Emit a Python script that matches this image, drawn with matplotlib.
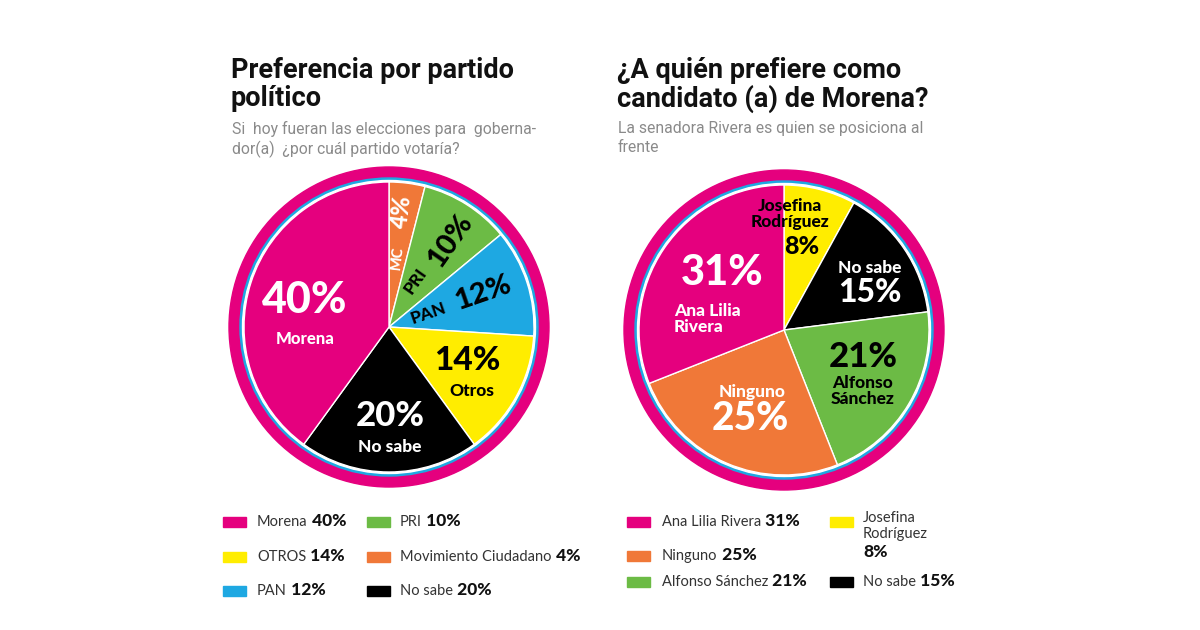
import matplotlib
matplotlib.use("Agg")
import matplotlib.pyplot as plt
from matplotlib.patches import Circle, Rectangle

# ---- data ----
partidos = ["MC", "PRI", "PAN", "Otros", "No sabe", "Morena"]
partidos_pct = [4, 10, 12, 14, 20, 40]
partidos_col = ["#F07838", "#6CBB45", "#1EA8E2", "#FFED00", "#000000", "#E5007E"]

leg1_labels = ["Morena", "OTROS", "PAN", "PRI", "Movimiento Ciudadano", "No sabe"]
leg1_pct = [40, 14, 12, 10, 4, 20]
leg1_col = ["#E5007E", "#FFED00", "#1EA8E2", "#6CBB45", "#F07838", "#000000"]

candidatos = ["Josefina Rodríguez", "No sabe", "Alfonso Sánchez", "Ninguno", "Ana Lilia Rivera"]
candidatos_pct = [8, 15, 21, 25, 31]
candidatos_col = ["#FFED00", "#000000", "#6CBB45", "#F07838", "#E5007E"]

leg2_labels = ["Ana Lilia Rivera", "Ninguno", "Alfonso Sánchez", "Josefina\nRodríguez", "No sabe"]
leg2_pct = [31, 25, 21, 8, 15]
leg2_col = ["#E5007E", "#F07838", "#6CBB45", "#FFED00", "#000000"]

MAG = "#E5007E"
BLUE = "#1EA8E2"
H = 630

fig = plt.figure(figsize=(12, 6.3), dpi=100)
ax = fig.add_axes([0, 0, 1, 1])

def px(x, y):
    return x, H - y

PIE_FONT = "Lato"
TITLE_FONT = "Roboto"

def ringed_pie(vals, cols, cx, cy):
    c = px(cx, cy)
    ax.add_patch(Circle(c, 160, color=MAG, zorder=1))
    ax.add_patch(Circle(c, 149, color=BLUE, zorder=2))
    ax.add_patch(Circle(c, 146.5, color="white", zorder=3))
    wedges, _ = ax.pie(vals, colors=cols, startangle=90, counterclock=False,
                       radius=145, center=c,
                       wedgeprops=dict(edgecolor="white", linewidth=1.0))
    for w in wedges:
        w.set_zorder(4)

ringed_pie(partidos_pct, partidos_col, 389, 327)
ringed_pie(candidatos_pct, candidatos_col, 784, 330)

def lbl(x, y, s, size, color, rot=0, ha="center"):
    ax.text(*px(x, y), s, fontsize=size, color=color, fontfamily=PIE_FONT,
            fontweight="black", ha=ha, va="center", rotation=rot,
            rotation_mode="anchor", zorder=6, linespacing=0.95)

# left pie labels
d = dict(zip(partidos, partidos_pct))
lbl(305, 300, f"{d['Morena']}%", 31, "white")
lbl(305, 339, "Morena", 12, "white")
lbl(397, 258, "MC", 10.5, "white", rot=83)
lbl(402, 212, f"{d['MC']}%", 17, "white", rot=83)
lbl(415, 281, "PRI", 12.5, "black", rot=55)
lbl(450, 241, f"{d['PRI']}%", 21, "black", rot=55)
lbl(428, 313, "PAN", 12.5, "black", rot=19)
lbl(483, 293, f"{d['PAN']}%", 21, "black", rot=19)
lbl(467, 361, f"{d['Otros']}%", 24, "black")
lbl(472, 391, "Otros", 12.5, "black")
lbl(390, 416, f"{d['No sabe']}%", 25, "white")
lbl(390, 447, "No sabe", 12.5, "white")

# right pie labels
d2 = dict(zip(candidatos, candidatos_pct))
lbl(722, 273, f"{d2['Ana Lilia Rivera']}%", 30, "white")
lbl(674, 319, "Ana Lilia\nRivera", 12.5, "white", ha="left")
lbl(752, 392, "Ninguno", 12.5, "white")
lbl(750, 418, f"{d2['Ninguno']}%", 28, "white")
lbl(863, 357, f"{d2['Alfonso Sánchez']}%", 25, "black")
lbl(863, 391, "Alfonso\nSánchez", 12.5, "black")
lbl(870, 268, "No sabe", 12.5, "white")
lbl(870, 293, f"{d2['No sabe']}%", 23, "white")
lbl(790, 214, "Josefina\nRodríguez", 12.5, "black")
lbl(802, 247, f"{d2['Josefina Rodríguez']}%", 18, "black")

# titles
def title(x, y, s):
    ax.text(*px(x, y), s, fontsize=19.5, fontfamily=TITLE_FONT, fontweight="bold",
            color="#111111", ha="left", va="top", linespacing=1.05)

def sub(x, y, s):
    ax.text(*px(x, y), s, fontsize=11.3, fontfamily=TITLE_FONT, color="#8a8a8a",
            ha="left", va="top", linespacing=1.3)

title(231, 57, "Preferencia por partido\npolítico")
sub(232, 121, "Si  hoy fueran las elecciones para  goberna-\ndor(a)  ¿por cuál partido votaría?")
title(617, 57, "¿A quién prefiere como\ncandidato (a) de Morena?")
sub(618, 121, "La senadora Rivera es quien se posiciona al\nfrente")

# legends
def legend_item(sx, tx, y, col, name):
    x0, y0 = px(sx, y + 5)
    ax.add_patch(Rectangle((x0, y0), 23, 10, color=col, zorder=5))
    t = ax.text(*px(tx, y), name, fontsize=10.5, fontfamily="Lato", color="#333333",
                ha="left", va="center", zorder=6, linespacing=1.2)
    return t

def legend_pct(t, pct, newline=False):
    if newline:
        ax.annotate(f"{pct}%", xy=(0, 0), xycoords=t, xytext=(0, -2),
                    textcoords="offset points", fontsize=12.5, fontfamily="Lato",
                    fontweight="black", color="#111111", ha="left", va="top")
    else:
        ax.annotate(f" {pct}%", xy=(1, 0), xycoords=t, xytext=(0, 0),
                    textcoords="offset points", fontsize=12.5, fontfamily="Lato",
                    fontweight="black", color="#111111", ha="left", va="bottom")

rows1 = [522, 557, 591]
for i in range(6):
    col_i, row_i = divmod(i, 3)
    sx, tx = (223, 257) if col_i == 0 else (367, 400)
    t = legend_item(sx, tx, rows1[row_i], leg1_col[i], leg1_labels[i])
    legend_pct(t, leg1_pct[i])

rows2 = [522, 556, 582]
for i in range(3):
    t = legend_item(627, 662, rows2[i], leg2_col[i], leg2_labels[i])
    legend_pct(t, leg2_pct[i])
t = legend_item(830, 863, 526, leg2_col[3], leg2_labels[3])
ax.patches[-1].set_y(H - 527)
legend_pct(t, leg2_pct[3], newline=True)
t = legend_item(830, 863, 582, leg2_col[4], leg2_labels[4])
legend_pct(t, leg2_pct[4])

ax.set_xlim(0, 1200)
ax.set_ylim(0, H)
ax.set_aspect("equal")
ax.axis("off")
fig.savefig("out.png", dpi=100, facecolor="white")
